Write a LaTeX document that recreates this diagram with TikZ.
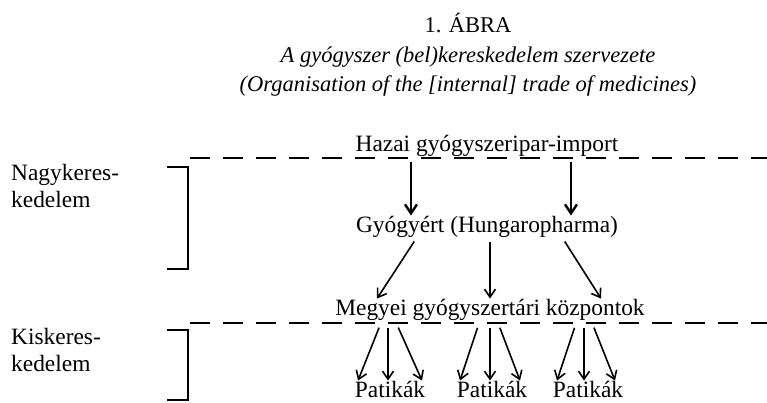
\documentclass[tikz,border=0pt]{standalone}
\usepackage{fontspec}
\setmainfont{Liberation Serif}
\usetikzlibrary{arrows.meta, positioning, calc}

\tikzset{
  txt/.style={inner sep=0pt, anchor=base, font=\fontsize{23.4}{26}\selectfont},
  caption/.style={inner sep=0pt, anchor=base, font=\fontsize{22.5}{26}\selectfont\itshape},
  side/.style={inner sep=0pt, anchor=base west, align=left, font=\fontsize{23.4}{27}\selectfont},
  level/.style={line width=2.2pt, dash pattern=on 20pt off 13pt},
  brace/.style={line width=2.4pt},
  flow/.style={-{Straight Barb[length=8pt,width=11pt,line width=1.6pt]}, line width=1.6pt, shorten <=5pt},
  bigflow/.style={-{Straight Barb[length=9pt,width=12pt,line width=2.4pt]}, line width=2.4pt, shorten <=6pt}
}

\begin{document}
\begin{tikzpicture}[x=1pt, y=-1pt]
        \useasboundingbox (0,0) rectangle (767,402);

        % title
        \node [txt, font=\fontsize{22.5}{26}\selectfont] (title) at (468,32) {1. ÁBRA};
        \node [caption] (subhu) at (468,62) {A gyógyszer (bel)kereskedelem szervezete};
        \node [caption] (suben) at (468,91) {(Organisation of the [internal] trade of medicines)};

        % levels
        \draw [level] (190,158) -- (767,158);
        \draw [level] (190,323) -- (767,323);

        \node [side] (nagy) at (11,207) {Nagykeres-\\kedelem};
        \draw [brace] (167,167) -- (188,167) -- (188,269) -- (167,269);
        \node [side] (kis) at (11,371) {Kiskeres-\\kedelem};
        \draw [brace] (167,330) -- (188,330) -- (188,400) -- (167,400);

        % nodes
        \node [txt] (hazai) at (487,151) {Hazai gyógyszeripar-import};
        \node [txt] (gyogy) at (487,232) {Gyógyért (Hungaropharma)};
        \node [txt] (megyei) at (490,315) {Megyei gyógyszertári központok};
        \node [txt] (pat1) at (390,397) {Patikák};
        \node [txt] (pat2) at (492,397) {Patikák};
        \node [txt] (pat3) at (588,397) {Patikák};

        % flows
        \draw [bigflow] ([xshift=-76pt]hazai.south) -- ([xshift=-76pt]gyogy.north);
        \draw [bigflow] ([xshift=84pt]hazai.south) -- ([xshift=84pt]gyogy.north);

        \draw [flow] ([xshift=-70pt]gyogy.south) -- ([xshift=-113pt]megyei.north);
        \draw [flow] ([xshift=3pt]gyogy.south) -- ([xshift=0pt]megyei.north);
        \draw [flow] ([xshift=75pt]gyogy.south) -- ([xshift=111pt]megyei.north);

        \draw [flow, shorten <=8pt] ([xshift=-108pt]megyei.south) -- ([xshift=-32pt]pat1.north);
        \draw [flow, shorten <=8pt] ([xshift=-102pt]megyei.south) -- ([xshift=-2pt]pat1.north);
        \draw [flow, shorten <=8pt] ([xshift=-95pt]megyei.south) -- ([xshift=32pt]pat1.north);

        \draw [flow, shorten <=8pt] ([xshift=-10pt]megyei.south) -- ([xshift=-32pt]pat2.north);
        \draw [flow, shorten <=8pt] ([xshift=0pt]megyei.south) -- ([xshift=-2pt]pat2.north);
        \draw [flow, shorten <=8pt] ([xshift=7pt]megyei.south) -- ([xshift=28pt]pat2.north);

        \draw [flow, shorten <=8pt] ([xshift=87pt]megyei.south) -- ([xshift=-31pt]pat3.north);
        \draw [flow, shorten <=8pt] ([xshift=94pt]megyei.south) -- ([xshift=-4pt]pat3.north);
        \draw [flow, shorten <=8pt] ([xshift=101pt]megyei.south) -- ([xshift=27pt]pat3.north);
\end{tikzpicture}
\end{document}
